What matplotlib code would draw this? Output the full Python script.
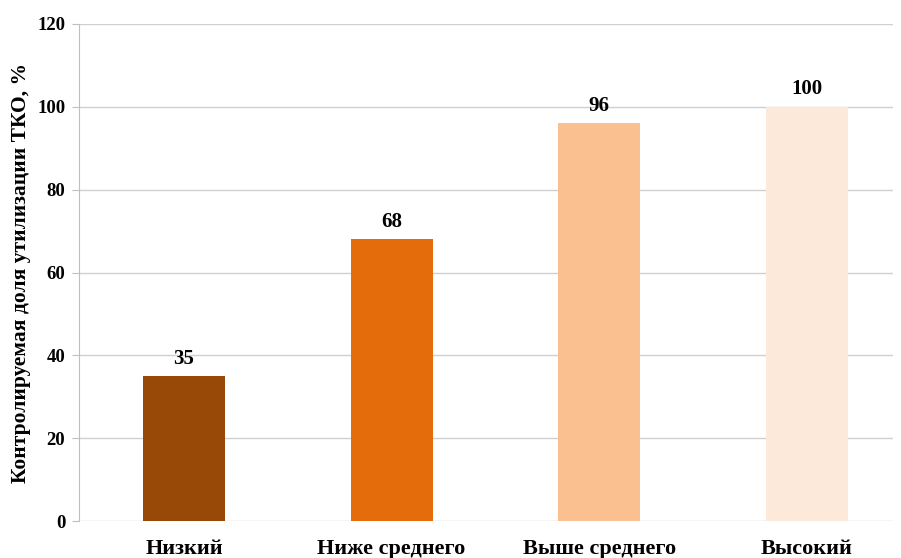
import matplotlib
matplotlib.use("Agg")
import matplotlib.pyplot as plt

# Уровни и контролируемая доля утилизации ТКО, %
kategorii = ["Низкий", "Ниже среднего", "Выше среднего", "Высокий"]
znacheniya = [35, 68, 96, 100]
cveta = ["#984807", "#E46C0A", "#FAC090", "#FDE9D9"]

plt.rcParams['font.family'] = ['Liberation Serif', 'DejaVu Serif']
plt.rcParams['font.weight'] = 'bold'

fig = plt.figure(figsize=(9.01, 5.58), dpi=100)
ax = fig.add_axes([0.0877, 0.066, 0.903, 0.891])

poz = list(range(len(kategorii)))
bars = ax.bar(poz, znacheniya, width=0.395, color=cveta, zorder=3)

for b, v in zip(bars, znacheniya):
    ax.text(b.get_x() + b.get_width() / 2, v + 1.8, str(v),
            ha='center', va='bottom', fontsize=15, fontweight='bold')

ax.set_xlim(-0.506, 3.414)
ax.set_ylim(0, 120)
ax.set_yticks(range(0, 121, 20))
ax.set_xticks(poz)
ax.set_xticklabels(kategorii, fontsize=16, fontweight='bold')
ax.tick_params(axis='y', labelsize=13.5, length=5, color='#BFBFBF', pad=5)
ax.tick_params(axis='x', length=0, pad=13)
ax.grid(axis='y', color='#D0D0D0', linewidth=1, zorder=0)

for s in ['top', 'right', 'bottom']:
    ax.spines[s].set_visible(False)
ax.spines['left'].set_color('#BFBFBF')

ax.set_ylabel("Контролируемая доля утилизации ТКО, %", fontsize=15.5,
              fontweight='bold', labelpad=4)

fig.savefig("out.png", dpi=100)
